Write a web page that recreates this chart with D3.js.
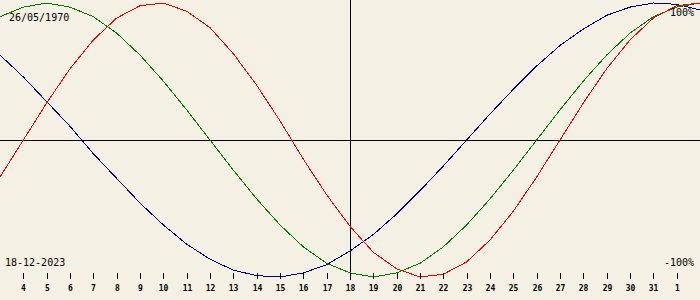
<!DOCTYPE html>
<html>
<head>
<meta charset="utf-8">
<script src="https://cdn.jsdelivr.net/npm/d3@7"></script>
<style>
  body { margin: 0; background: #f4f0e4; }
  svg { display: block; }
</style>
</head>
<body>
<svg width="700" height="300"></svg>
<script>
var birth = "26/05/1970",
    today = "18-12-2023";

// day labels, 3 Dec .. 2 Jan (offset from 18 Dec)
var days = [3, 4, 5, 6, 7, 8, 9, 10, 11, 12, 13, 14, 15, 16, 17, 18,
            19, 20, 21, 22, 23, 24, 25, 26, 27, 28, 29, 30, 31, 1, 2];
var offsets = [-15, -14, -13, -12, -11, -10, -9, -8, -7, -6, -5, -4, -3, -2, -1, 0,
               1, 2, 3, 4, 5, 6, 7, 8, 9, 10, 11, 12, 13, 14, 15];

var physical = [-0.27, 0, 0.27, 0.52, 0.73, 0.89, 0.98, 1.00, 0.94, 0.82, 0.63, 0.40, 0.14, -0.14, -0.40, -0.63,
                -0.82, -0.94, -1.00, -0.98, -0.89, -0.73, -0.52, -0.27, 0, 0.27, 0.52, 0.73, 0.89, 0.98, 1.00];
var emotional = [0.90, 0.97, 1.00, 0.97, 0.90, 0.78, 0.62, 0.43, 0.22, 0, -0.22, -0.43, -0.62, -0.78, -0.90, -0.97,
                 -1.00, -0.97, -0.90, -0.78, -0.62, -0.43, -0.22, 0, 0.22, 0.43, 0.62, 0.78, 0.90, 0.97, 1.00];
var intellectual = [0.62, 0.46, 0.28, 0.10, -0.10, -0.28, -0.46, -0.62, -0.76, -0.87, -0.95, -0.99, -1.00, -0.97, -0.91, -0.81,
                    -0.69, -0.54, -0.37, -0.19, 0, 0.19, 0.37, 0.54, 0.69, 0.81, 0.91, 0.97, 1.00, 0.99, 0.95];

var svg = d3.select("svg"),
    width = +svg.attr("width"),
    height = +svg.attr("height");

svg.append("rect").attr("width", width).attr("height", height).attr("fill", "#f4f0e4");

var x = d3.scaleLinear().domain([-15, 15]).range([0, width]);
var y = d3.scaleLinear().domain([-1, 1]).range([277, 3]);

// axes cross
svg.append("line")
  .attr("x1", 0).attr("x2", width)
  .attr("y1", Math.round(y(0)) + 0.5).attr("y2", Math.round(y(0)) + 0.5)
  .attr("stroke", "#000");
svg.append("line")
  .attr("x1", Math.round(x(0)) + 0.5).attr("x2", Math.round(x(0)) + 0.5)
  .attr("y1", 0).attr("y2", 280)
  .attr("stroke", "#000");

var line = d3.line()
  .x(function(d, i) { return x(offsets[i]); })
  .y(function(d) { return y(d); });

var series = [
  {vals: intellectual, color: "#000080"},
  {vals: emotional, color: "#008000"},
  {vals: physical, color: "#ff0000"}
];

svg.selectAll(".curve")
  .data(series)
  .enter().append("path")
    .attr("class", "curve")
    .attr("d", function(d) { return line(d.vals); })
    .attr("fill", "none")
    .attr("stroke", function(d) { return d.color; })
    .attr("stroke-width", 1)
    .attr("shape-rendering", "crispEdges");

// day ticks
var ticks = svg.append("g").selectAll("g")
  .data(offsets.slice(1, 30))
  .enter().append("g")
    .attr("transform", function(d) { return "translate(" + (Math.round(x(d)) + 0.5) + ",0)"; });

ticks.append("line")
  .attr("y1", 273).attr("y2", 279)
  .attr("stroke", "#000");

ticks.append("text")
  .attr("x", 0).attr("y", 291)
  .attr("text-anchor", "middle")
  .style("font-family", "DejaVu Sans Mono")
  .style("font-size", "8px")
  .style("font-weight", "bold")
  .text(function(d) { return days[offsets.indexOf(d)]; });

function label(t, xx, yy, anchor) {
  svg.append("text")
    .attr("x", xx).attr("y", yy)
    .attr("text-anchor", anchor)
    .style("font-family", "DejaVu Sans Mono")
    .style("font-size", "10px")
    .attr("fill", "#000")
    .text(t);
}
label(birth, 9, 21, "start");
label("100%", 694, 16, "end");
label(today, 5, 266, "start");
label("-100%", 694, 266, "end");
</script>
</body>
</html>
